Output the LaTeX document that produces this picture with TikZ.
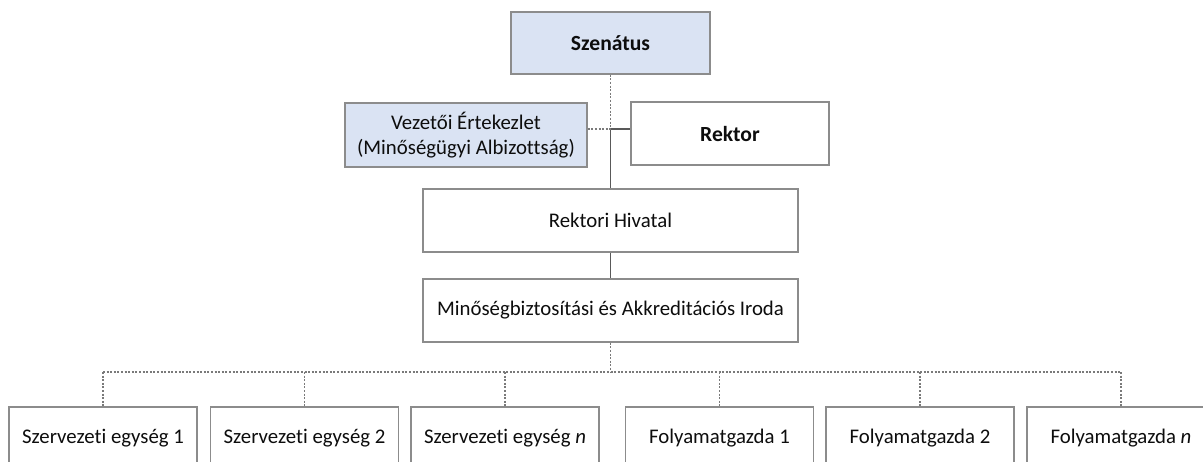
\documentclass[tikz,border=0pt]{standalone}
\usepackage{fontspec}
\setmainfont{Carlito}[Ligatures=NoCommon]
\newcommand\pxu{0.75pt}
\definecolor{boxline}{HTML}{8C8C8C}
\definecolor{bluefill}{HTML}{DAE3F3}
\definecolor{conn}{HTML}{595959}
\definecolor{txt}{HTML}{0D0D0D}
\tikzset{
  orgbox/.style={draw=boxline, line width=1.1pt, fill=white, inner sep=0pt, align=center,
    text=txt, font=\fontsize{15.6}{18.5}\selectfont},
  bluebox/.style={orgbox, fill=bluefill},
  solidconn/.style={draw=conn, line width=0.8pt},
  dotconn/.style={draw=conn!80, line width=0.8pt, dash pattern=on 1.5pt off 1.2pt},
}
\begin{document}
\begin{tikzpicture}[x=\pxu, y=-\pxu]
\useasboundingbox (0,0) rectangle (1203,461);
\fill[white] (0,0) rectangle (1203,461);
\begin{scope}
\clip (0,0) rectangle (1203,461);
% nodes
\node[bluebox, minimum width=199*\pxu, minimum height=62*\pxu] (sz) at (610.5,43) {\fontsize{16.2}{19}\selectfont\textbf{Szenátus}};
\node[bluebox, minimum width=242*\pxu, minimum height=64*\pxu] (vez) at (466,135) {Vezetői Értekezlet\\(Minőségügyi Albizottság)};
\node[orgbox, minimum width=198*\pxu, minimum height=63*\pxu] (rek) at (730,133.5) {\fontsize{16.2}{19}\selectfont\textbf{Rektor}};
\node[orgbox, minimum width=375*\pxu, minimum height=63*\pxu] (rh) at (610.5,220.5) {Rektori Hivatal};
\node[orgbox, minimum width=375*\pxu, minimum height=63*\pxu] (mai) at (610.5,310.5) {Minőségbiztosítási és Akkreditációs Iroda};
\node[orgbox, minimum width=188*\pxu, minimum height=63*\pxu] (b1) at (103,438.5) {Szervezeti egység 1};
\node[orgbox, minimum width=188*\pxu, minimum height=63*\pxu] (b2) at (304.5,438.5) {Szervezeti egység 2};
\node[orgbox, minimum width=188*\pxu, minimum height=63*\pxu] (b3) at (505,438.5) {Szervezeti egység \textit{n}};
\node[orgbox, minimum width=188*\pxu, minimum height=63*\pxu] (b4) at (719.5,438.5) {Folyamatgazda 1};
\node[orgbox, minimum width=188*\pxu, minimum height=63*\pxu] (b5) at (920,438.5) {Folyamatgazda 2};
\node[orgbox, minimum width=188*\pxu, minimum height=63*\pxu] (b6) at (1121,438.5) {Folyamatgazda \textit{n}};
% coordinates
\coordinate (j) at (610.5,129);
\coordinate (bus) at (610.5,372);
% connectors
\draw[dotconn] (sz.south) -- (j);
\draw[solidconn] (j) -- (rh.north);
\draw[dotconn] (j -| vez.east) -- (j);
\draw[solidconn] (j) -- (j -| rek.west);
\draw[solidconn] (rh.south) -- (mai.north);
\draw[dotconn] (mai.south) -- (bus);
\draw[dotconn] (bus -| b1.north) -- (bus -| b6.north);
\foreach \b in {b1,b2,b3,b4,b5,b6} {
  \draw[dotconn] (bus -| \b.north) -- (\b.north);
}
\end{scope}
\end{tikzpicture}
\end{document}
